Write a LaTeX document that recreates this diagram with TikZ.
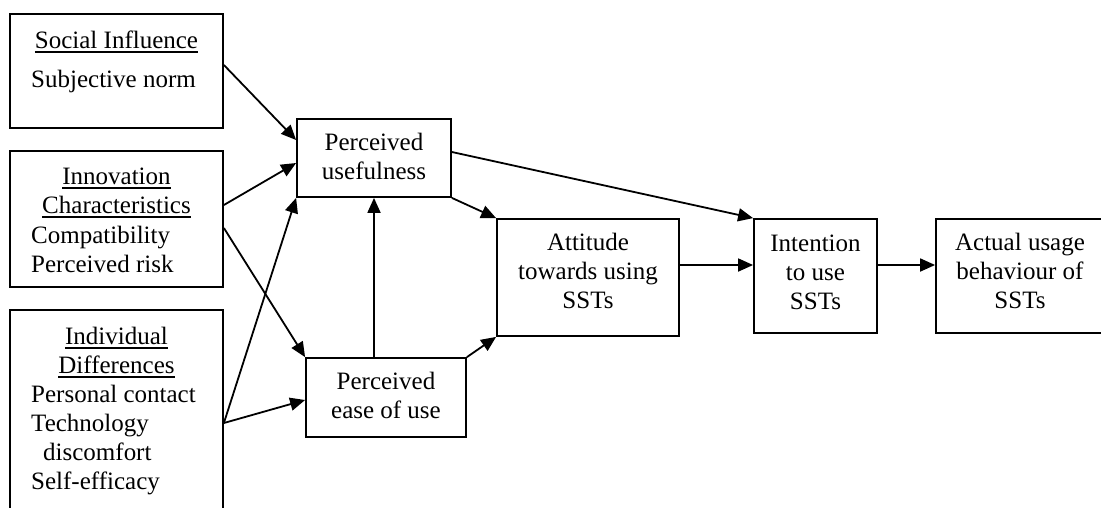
\documentclass[tikz,border=0pt]{standalone}
\usepackage{fontspec}
\setmainfont{Liberation Serif}
\usetikzlibrary{arrows.meta}

% underlined heading with a heavier rule
\newcommand{\headline}[1]{\setbox0\hbox{#1}\rlap{\rule[-5.2pt]{\wd0}{1.8pt}}\box0}

\tikzset{
  box/.style={draw, line width=1.8pt, inner sep=0pt},
  txt/.style={inner sep=0pt, font=\fontsize{25pt}{29pt}\selectfont},
  arr/.style={line width=1.8pt, -{Triangle[length=15pt,width=13pt]}},
}

\begin{document}
\begin{tikzpicture}[x=1pt,y=-1pt]
  \useasboundingbox (0,0) rectangle (1101,507);
  \fill[white] (0,0) rectangle (1101,507);
  \clip (0,0) rectangle (1101,507);

  % boxes
  \node[box, minimum width=213pt, minimum height=114pt] (soc) at (116.5,71) {};
  \node[box, minimum width=213pt, minimum height=136pt] (inn) at (116.5,219) {};
  \node[box, minimum width=213pt, minimum height=215pt] (ind) at (116.5,417.5) {};
  \node[box, minimum width=154pt, minimum height=78pt] (pu) at (374,158) {};
  \node[box, minimum width=160pt, minimum height=79pt] (peou) at (386,397.5) {};
  \node[box, minimum width=182pt, minimum height=117pt] (att) at (588,277.5) {};
  \node[box, minimum width=123pt, minimum height=114pt] (int) at (815.5,276) {};
  \node[box, minimum width=168pt, minimum height=114pt] (act) at (1020,276) {};

  % texts of the external factor boxes (base anchor = last line)
  \node[txt, anchor=base] (socH) at (116.5,48) {\headline{Social Influence}};
  \node[txt, anchor=base west] (socI) at (31,87) {Subjective norm};
  \node[txt, anchor=base, align=center] (innH) at (116.5,213)
    {\headline{Innovation}\\\headline{Characteristics}};
  \node[txt, anchor=base west, align=left] (innI) at (31,272)
    {Compatibility\\Perceived risk};
  \node[txt, anchor=base, align=center] (indH) at (116.5,373)
    {\headline{Individual}\\\headline{Differences}};
  \node[txt, anchor=base west, align=left] (indI) at (31,489)
    {Personal contact\\Technology\\\hspace*{12pt}discomfort\\Self-efficacy};

  % texts of the model constructs
  \node[txt, anchor=base, align=center] (puT) at (374,179) {Perceived\\usefulness};
  \node[txt, anchor=base, align=center] (peouT) at (386,418) {Perceived\\ease of use};
  \node[txt, anchor=base, align=center] (attT) at (588,308) {Attitude\\towards using\\SSTs};
  \node[txt, anchor=base, align=center] (intT) at (815.5,309) {Intention\\to use\\SSTs};
  \node[txt, anchor=base, align=center] (actT) at (1020,308) {Actual usage\\behaviour of\\SSTs};

  % connectors
  \draw[arr] ([yshift=6pt]soc.east) -- ([yshift=18pt]pu.west);
  \draw[arr] ([yshift=14pt]inn.east) -- ([yshift=-5pt]pu.west);
  \draw[arr] ([yshift=-9pt]inn.east) -- (peou.north west);
  \coordinate (indout) at ([yshift=-5.5pt]ind.east);
  \draw[arr] (indout) -- (pu.south west);
  \draw[arr] (indout) -- ([yshift=-2.5pt]peou.west);
  \draw[arr] (pu.south |- peou.north) -- (pu.south);
  \draw[arr] (pu.south east) -- (att.north west);
  \draw[arr] (peou.north east) -- (att.south west);
  \draw[arr] ([yshift=6pt]pu.east) -- (int.north west);
  \draw[arr] ([yshift=12.5pt]att.east) -- ([yshift=11pt]int.west);
  \draw[arr] ([yshift=11pt]int.east) -- ([yshift=11pt]act.west);
\end{tikzpicture}
\end{document}
